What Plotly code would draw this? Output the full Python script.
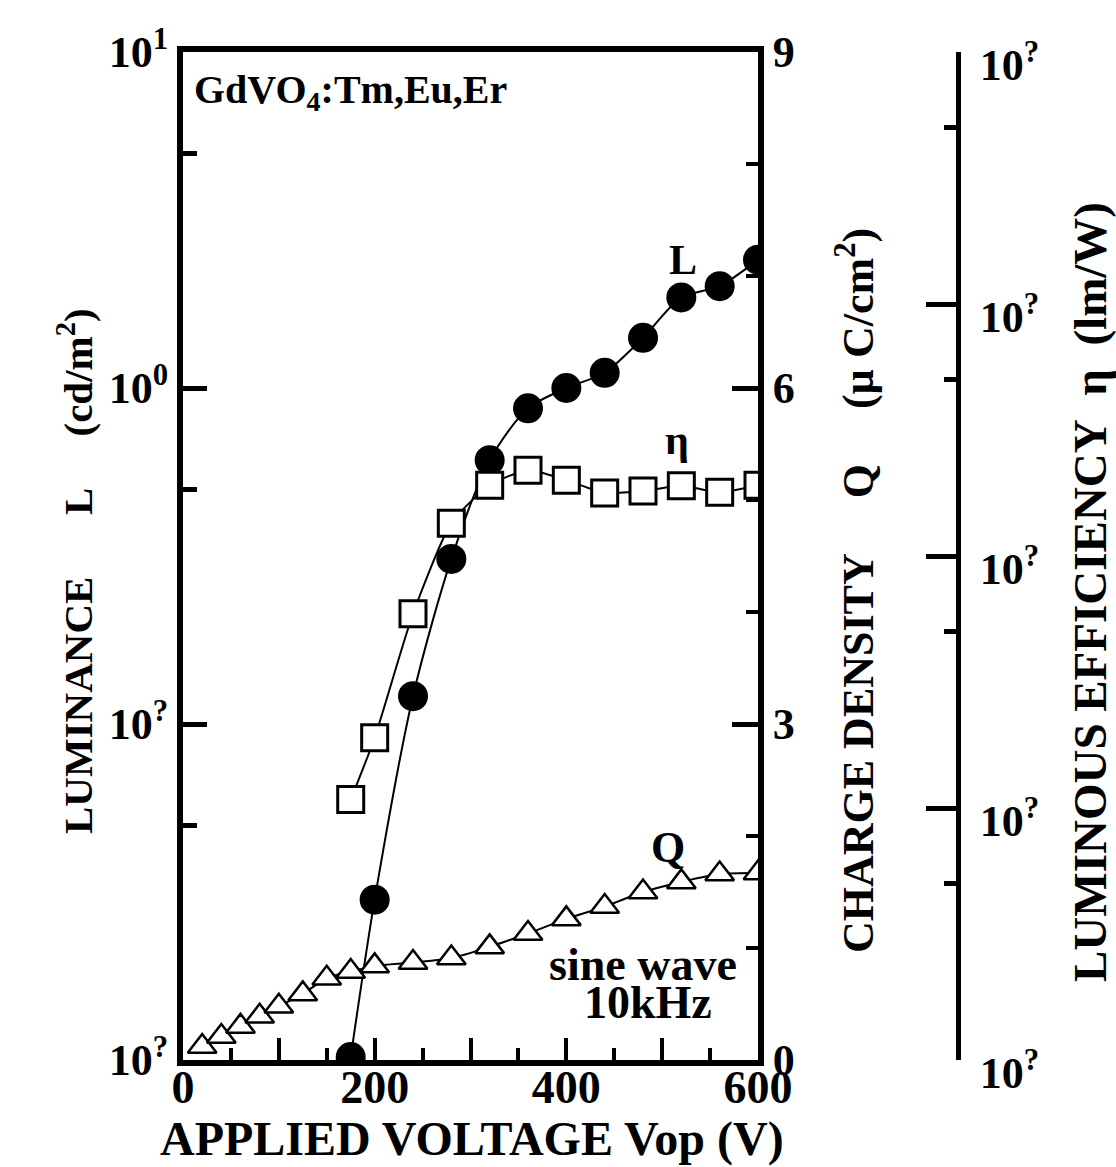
import plotly.graph_objects as go

# ---------------- data ----------------
v_L = [175, 200, 240, 280, 320, 360, 400, 440, 480, 520, 560, 600]
lum = [0.0102, 0.030, 0.121, 0.31, 0.61, 0.87, 1.0, 1.11, 1.41, 1.86, 2.01, 2.41]

v_eta = [175, 200, 240, 280, 320, 360, 400, 440, 480, 520, 560, 600]
eta = [0.0108, 0.019, 0.059, 0.135, 0.191, 0.219, 0.200, 0.178, 0.181, 0.190, 0.179, 0.191]

v_Q = [20, 40, 60, 80, 100, 125, 150, 175, 200, 240, 280, 320, 360, 400, 440, 480, 520, 560, 600]
charge = [0.12, 0.21, 0.30, 0.39, 0.48, 0.59, 0.73, 0.79, 0.84, 0.87, 0.91, 1.01, 1.13,
          1.26, 1.37, 1.50, 1.59, 1.66, 1.67]

x_tickvals = [0, 100, 200, 300, 400, 500, 600]
x_ticktext = ["0", "", "200", "", "400", "", "600"]
L_tickvals = [0.01, 0.1, 1, 10]
L_ticktext = ["10<sup>?</sup>", "10<sup>?</sup>", "10<sup>0</sup>", "10<sup>1</sup>"]
Q_tickvals = [0, 3, 6, 9]
eta_tickvals = [0.001, 0.01, 0.1, 1, 10]
eta_ticktext = ["10<sup>?</sup>"] * 5

# ---------------- layout helpers ----------------
W, H = 1116, 1167
PL, PR, PT, PB = 183, 1000, 52, 1060      # plot paper box in page pixels
ML, MT = PL, PT
MR = W - PR
MB = H - PB
PW = PR - PL
PH = PB - PT


def px(x):
    return (x - PL) / PW


def py(y):
    return (PB - y) / PH


FONT = "Liberation Serif"
BLK = "black"

fig = go.Figure()

fig.add_trace(go.Scatter(
    x=v_Q, y=charge, yaxis="y2", mode="lines+markers",
    line=dict(color=BLK, width=2, shape="spline", smoothing=0.8),
    marker=dict(symbol="triangle-up", size=25, color="white",
                line=dict(color=BLK, width=2.5)),
    showlegend=False))

fig.add_trace(go.Scatter(
    x=v_L, y=lum, mode="lines+markers",
    line=dict(color=BLK, width=2, shape="spline", smoothing=0.8),
    marker=dict(symbol="circle", size=30, color=BLK),
    showlegend=False))

fig.add_trace(go.Scatter(
    x=v_eta, y=eta, yaxis="y3", mode="lines+markers",
    line=dict(color=BLK, width=2, shape="spline", smoothing=0.6),
    marker=dict(symbol="square", size=26, color="white",
                line=dict(color=BLK, width=3)),
    showlegend=False))

ytickfont = dict(family=FONT, size=44, color=BLK, weight="bold")
xtickfont = dict(family=FONT, size=46, color=BLK, weight="bold")

fig.update_layout(
    width=W, height=H,
    margin=dict(l=ML, r=MR, t=MT, b=MB),
    paper_bgcolor="white", plot_bgcolor="white",
    xaxis=dict(
        domain=[0, px(758)], range=[0, 600],
        showline=True, linewidth=6, linecolor=BLK, mirror=True,
        showgrid=False, zeroline=False,
        ticks="inside", ticklen=22, tickwidth=4, tickcolor=BLK,
        tickmode="array", tickvals=x_tickvals, ticktext=x_ticktext,
        minor=dict(tickmode="array", tickvals=[50, 150, 250, 350, 450, 550],
                   ticks="inside", ticklen=12, tickwidth=4, tickcolor=BLK),
        tickfont=xtickfont, ticklabelstandoff=-18,
    ),
    yaxis=dict(
        type="log", range=[-2, 1],
        showline=True, linewidth=6, linecolor=BLK,
        showgrid=False, zeroline=False,
        ticks="inside", ticklen=24, tickwidth=5, tickcolor=BLK,
        tickmode="array", tickvals=L_tickvals, ticktext=L_ticktext,
        minor=dict(tickmode="array", tickvals=[0.05, 0.5, 5],
                   ticks="inside", ticklen=14, tickwidth=5, tickcolor=BLK),
        tickfont=ytickfont,
    ),
    yaxis2=dict(
        overlaying="y", side="right", range=[0, 9],
        showline=True, linewidth=6, linecolor=BLK,
        showgrid=False, zeroline=False,
        ticks="inside", ticklen=26, tickwidth=5, tickcolor=BLK,
        tickmode="array", tickvals=Q_tickvals,
        minor=dict(tickmode="array", tickvals=[1, 2, 4, 5, 7, 8],
                   ticks="inside", ticklen=12, tickwidth=4, tickcolor=BLK),
        tickfont=ytickfont,
    ),
    yaxis3=dict(
        overlaying="y", side="right", anchor="free", position=px(958),
        type="log", range=[-3, 1],
        showline=True, linewidth=5, linecolor=BLK,
        showgrid=False, zeroline=False,
        ticks="inside", ticklen=30, tickwidth=5, tickcolor=BLK,
        tickmode="array", tickvals=eta_tickvals, ticktext=eta_ticktext,
        minor=dict(tickmode="array", tickvals=[0.005, 0.05, 0.5, 5],
                   ticks="inside", ticklen=12, tickwidth=5, tickcolor=BLK),
        tickfont=ytickfont, ticklabelstandoff=10, ticklabelshift=13,
    ),
)

NB = "\u00a0"


def ann(text, x, y, size, angle=0, xanchor="center", yanchor="middle"):
    fig.add_annotation(
        text=text, x=px(x), y=py(y), xref="paper", yref="paper",
        showarrow=False, textangle=angle, xanchor=xanchor, yanchor=yanchor,
        font=dict(family=FONT, size=size, color=BLK, weight="bold"))


ann("APPLIED VOLTAGE Vop (V)", 472, 1139, 48)
ann("LUMINANCE" + NB * 6 + "L" + NB * 5 + "(cd/m<sup>2</sup>)", 75, 571, 41, angle=-90)
ann("CHARGE DENSITY" + NB * 5 + "Q" + NB * 5 + "(\u00b5 C/cm<sup>2</sup>)", 855, 591, 44, angle=-90)
ann("LUMINOUS EFFICIENCY" + NB * 2 + "\u03b7" + NB * 2 + "(lm/W)", 1090, 592, 47, angle=-90)
ann("GdVO<sub>4</sub>:Tm,Eu,Er", 192, 92, 40, xanchor="left")
ann("L", 683, 260, 42)
ann("\u03b7", 677, 440, 42)
ann("Q", 668, 847, 44)
ann("sine wave", 643, 964, 46)
ann("10kHz", 648, 1002, 46)

fig.write_html(
    "out.html",
    config={"displayModeBar": False},
    post_script="document.body.style.margin='0';document.body.style.overflow='hidden';"
                "window.scrollTo(0,0);",
)
